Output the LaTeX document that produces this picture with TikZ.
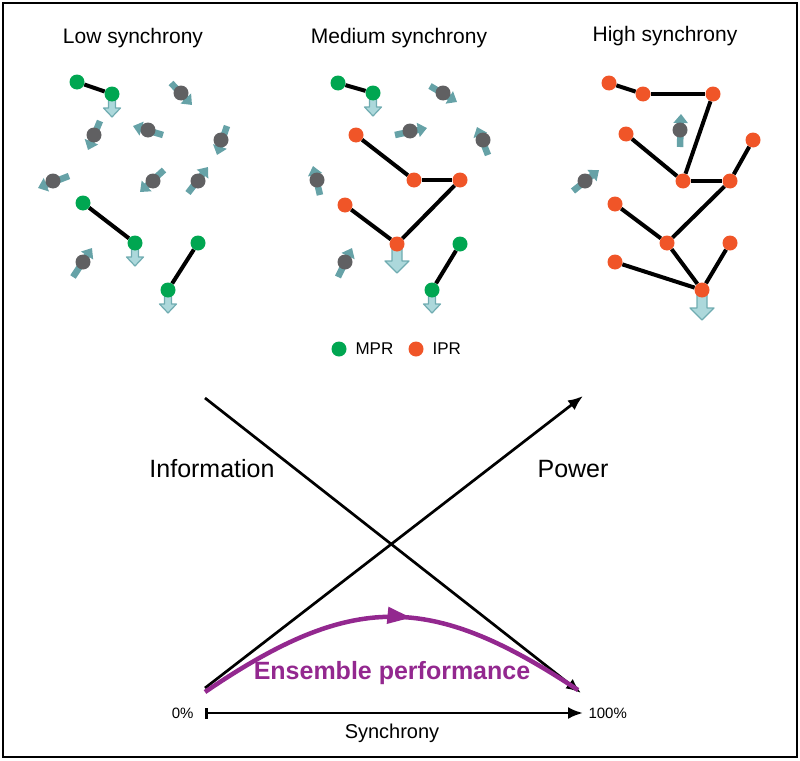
\documentclass[tikz,border=0pt]{standalone}
\usepackage{fontspec}
\setmainfont{Liberation Sans}
\usetikzlibrary{arrows.meta,backgrounds,calc,decorations.markings}

\definecolor{mprgreen}{RGB}{0,166,81}
\definecolor{iprred}{RGB}{240,85,40}
\definecolor{oscgray}{RGB}{96,96,98}
\definecolor{spinteal}{RGB}{102,162,167}
\definecolor{flowfill}{RGB}{172,216,219}
\definecolor{flowline}{RGB}{112,172,177}
\definecolor{ensemble}{RGB}{147,40,143}

\newcommand\oscnode[7]{%
  \node[osc] (#1) at (#2,#3) {};
  \coordinate (#1t) at (#4,#5);
  \coordinate (#1h) at (#6,#7);
  \begin{scope}[on background layer]\draw[spin] (#1t) -- (#1h);\end{scope}%
}
% node, shaft half-width, head half-width, shaft length, head length
\newcommand\flowarrow[5]{%
  \begin{scope}[on background layer,shift={(#1)}]
    \draw[flowarr] (-#2,0) -- (-#2,#4) -- (-#3,#4) -- (0,#4+#5) -- (#3,#4) -- (#2,#4) -- (#2,0) -- cycle;
  \end{scope}%
}

\begin{document}
\begin{tikzpicture}[x=1pt,y=-1pt,
  mpr/.style={circle,fill=mprgreen,minimum size=15pt,inner sep=0pt},
  ipr/.style={circle,fill=iprred,minimum size=15pt,inner sep=0pt},
  osc/.style={circle,fill=oscgray,minimum size=15pt,inner sep=0pt},
  link/.style={line width=4pt,black},
  spin/.style={spinteal,line width=6.5pt,-{Triangle[width=14pt,length=9pt]}},
  flowarr/.style={fill=flowfill,draw=flowline,line width=1.2pt,line join=round},
  title/.style={font=\fontsize{21}{25}\selectfont},
  axislbl/.style={font=\fontsize{25}{30}\selectfont},
  axisline/.style={line width=2.7pt,black},
  bigtip/.style={-{Latex[length=15pt,width=12pt]}},
]
\useasboundingbox (0,0) rectangle (800,760);
\draw[line width=2.5pt] (3,3) rectangle (797,757);

% titles
\node[title] (tlow) at (133,38) {Low synchrony};
\node[title] (tmed) at (399,38) {Medium synchrony};
\node[title] (thigh) at (665,36) {High synchrony};

% ---------- Low synchrony ----------
\node[mpr] (L1a) at (77,82) {};
\node[mpr] (L1b) at (112,94) {};
\node[mpr] (L2a) at (83,203) {};
\node[mpr] (L2b) at (135,243) {};
\node[mpr] (L3a) at (198,243) {};
\node[mpr] (L3b) at (168,290) {};
\begin{scope}[on background layer]
  \draw[link] (L1a) -- (L1b);
  \draw[link] (L2a) -- (L2b);
  \draw[link] (L3a) -- (L3b);
\end{scope}
\flowarrow{L1b}{3.5}{8.5}{14}{9}
\flowarrow{L2b}{3.5}{8.5}{14}{9}
\flowarrow{L3b}{3.5}{8.5}{14}{9}
\oscnode{La}{181}{93}{171}{83}{192}{105}
\oscnode{Lb}{94}{135}{100}{121}{88}{150}
\oscnode{Lc}{148}{130}{163}{135}{133}{126}
\oscnode{Ld}{221}{140}{227}{126}{217}{155}
\oscnode{Le}{53}{181}{69}{176}{38}{188}
\oscnode{Lf}{153}{181}{164}{170}{140}{192}
\oscnode{Lg}{198}{181}{188}{193}{208}{167}
\oscnode{Lh}{83}{262}{73}{277}{92}{248}

% ---------- Medium synchrony ----------
\node[mpr] (M1a) at (338,83) {};
\node[mpr] (M1b) at (373,93) {};
\node[mpr] (M3a) at (460,244) {};
\node[mpr] (M3b) at (432,290) {};
\node[ipr] (Ma) at (356,135) {};
\node[ipr] (Mb) at (414,180) {};
\node[ipr] (Mc) at (460,180) {};
\node[ipr] (Md) at (345,205) {};
\node[ipr] (Me) at (397,244) {};
\begin{scope}[on background layer]
  \draw[link] (M1a) -- (M1b);
  \draw[link] (M3a) -- (M3b);
  \draw[link] (Ma) -- (Mb);
  \draw[link] (Mb) -- (Mc);
  \draw[link] (Mc) -- (Me);
  \draw[link] (Md) -- (Me);
\end{scope}
\flowarrow{M1b}{3.5}{8.5}{14}{9}
\flowarrow{M3b}{3.5}{8.5}{14}{9}
\flowarrow{Me}{5}{12}{17}{12}
\oscnode{Mo1}{443}{93}{430}{86}{457}{102}
\oscnode{Mo2}{410}{131}{395}{135}{427}{128}
\oscnode{Mo3}{483}{140}{488}{155}{477}{127}
\oscnode{Mo4}{317}{180}{320}{195}{313}{166}
\oscnode{Mo5}{345}{262}{338}{277}{352}{248}

% ---------- High synchrony ----------
\node[ipr] (Ha) at (609,83) {};
\node[ipr] (Hb) at (643,94) {};
\node[ipr] (Hc) at (713,94) {};
\node[ipr] (Hd) at (626,134) {};
\node[ipr] (He) at (683,181) {};
\node[ipr] (Hf) at (730,181) {};
\node[ipr] (Hg) at (753,140) {};
\node[ipr] (Hh) at (615,204) {};
\node[ipr] (Hi) at (667,243) {};
\node[ipr] (Hj) at (730,243) {};
\node[ipr] (Hk) at (615,262) {};
\node[ipr] (Hl) at (702,290) {};
\begin{scope}[on background layer]
  \draw[link] (Ha) -- (Hb);
  \draw[link] (Hb) -- (Hc);
  \draw[link] (Hc) -- (He);
  \draw[link] (Hd) -- (He);
  \draw[link] (He) -- (Hf);
  \draw[link] (Hf) -- (Hg);
  \draw[link] (Hf) -- (Hi);
  \draw[link] (Hh) -- (Hi);
  \draw[link] (Hi) -- (Hl);
  \draw[link] (Hk) -- (Hl);
  \draw[link] (Hj) -- (Hl);
\end{scope}
\flowarrow{Hl}{5}{12}{18}{12}
\oscnode{Ho1}{680}{130}{680}{147}{681}{114}
\oscnode{Ho2}{585}{181}{573}{191}{599}{170}

% legend
\node[mpr] (legm) at (339,349) {};
\node[anchor=west,font=\fontsize{17}{20}\selectfont] (legmt) at (352,349) {MPR};
\node[ipr] (legi) at (416,349) {};
\node[anchor=west,font=\fontsize{17}{20}\selectfont] (legit) at (429,349) {IPR};

% ---------- bottom chart ----------
\coordinate (infoS) at (205,398);
\coordinate (infoE) at (581,693);
\coordinate (powS) at (205,688);
\coordinate (powE) at (583,396);
\coordinate (ax0) at (205,713);
\coordinate (ax1) at (583,713);
\coordinate (ens0) at (205,692);
\coordinate (ens1) at (578,690);

\draw[axisline,bigtip] (infoS) -- (infoE);
\draw[axisline,bigtip] (powS) -- (powE);
\draw[axisline,{Bar[width=11pt]}-{Latex[length=15pt,width=12pt]}] (ax0) -- (ax1);

\draw[ensemble,line width=4.5pt,
  postaction={decorate},
  decoration={markings,mark=at position 0.55 with {\arrow{Triangle[length=24pt,width=16pt]}}}]
  (ens0) .. controls (352,592) and (430,592) .. (ens1);

\node[axislbl] (info) at (212,469) {Information};
\node[axislbl] (power) at (573,469) {Power};
\node[font=\fontsize{25}{30}\selectfont\bfseries,text=ensemble] (enstxt) at (392,673) {Ensemble performance};
\node[anchor=east,font=\fontsize{15}{18}\selectfont] (zero) at (197,713) {0\%};
\node[anchor=west,font=\fontsize{15}{18}\selectfont] (hundred) at (585,713) {100\%};
\node[font=\fontsize{20}{24}\selectfont] (sync) at (392,733) {Synchrony};
\end{tikzpicture}
\end{document}
